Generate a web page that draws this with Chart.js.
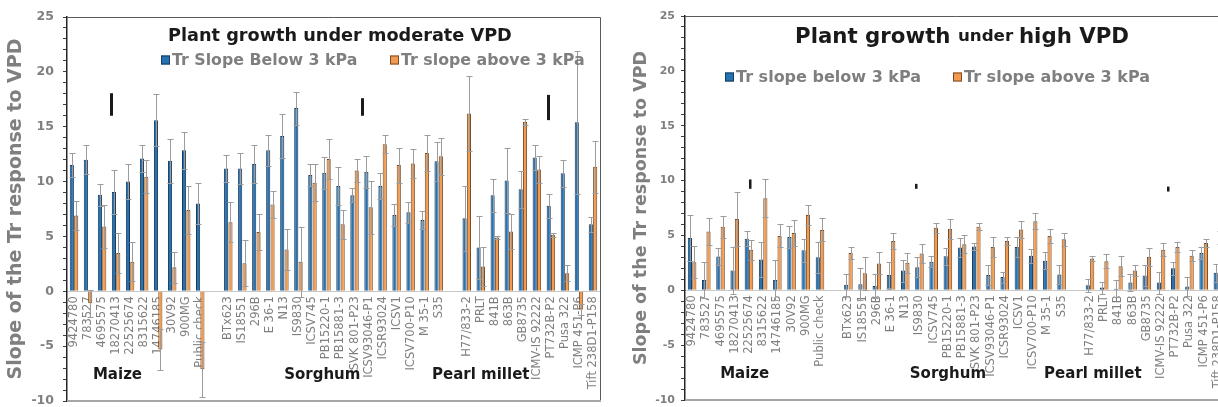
<!DOCTYPE html>
<html><head><meta charset="utf-8">
<script src="https://cdn.jsdelivr.net/npm/chart.js@4.4.1/dist/chart.umd.min.js"></script>
<style>
html,body{margin:0;padding:0;background:#fff;overflow:hidden;width:1218px;height:407px;}
#w1{position:absolute;left:0;top:0;width:607px;height:407px;}
#w2{position:absolute;left:607px;top:0;width:625px;height:407px;}
</style></head><body>
<div id="w1"><canvas id="c1"></canvas></div>
<div id="w2"><canvas id="c2"></canvas></div>
<script>
// ---------- DATA ----------
const categories = ['9424780','783527','4695575','18270413','22525674','8315622','14746185','30V92','900MG','Public check','',
  'BTx623','IS18551','296B','E 36-1','N13','IS9830','ICSV745','PB15220-1','PB15881-3','SVK 801-P23','ICSV93046-P1','ICSR93024','ICSV1','ICSV700-P10','M 35-1','S35','',
  'H77/833-2','PRLT','841B','863B','GB8735','ICMV-IS 92222','PT732B-P2','Pusa 322','ICMP 451-P6','Tift 238D1-P158'];
const groupNames = ['Maize','Sorghum','Pearl millet'];
const yTickLabels = [-10,-5,0,5,10,15,20,25];

// moderate VPD
const belowModerate = [11.5,12.0,8.8,9.05,10.0,12.1,15.6,11.9,12.85,8.0,null,
  11.2,11.2,11.6,12.85,14.15,16.7,10.6,10.8,9.6,8.75,10.9,9.6,6.95,7.2,6.5,11.85,null,
  6.65,4.0,8.75,10.1,9.3,12.2,7.8,10.75,15.4,6.1];
const belowModerateErr = [1.1,1.3,1.0,2.0,1.6,1.2,2.4,2.0,1.7,1.9,null,
  1.2,1.4,1.7,1.4,2.0,1.5,1.0,1.45,1.75,0.65,1.45,1.2,1.0,0.95,0.8,1.8,null,
  2.95,2.9,1.5,3.0,1.7,1.15,1.1,1.2,6.5,0.7];
const aboveModerate = [6.9,-1.1,5.9,3.5,2.7,10.45,-5.3,2.2,7.4,-7.1,null,
  6.3,2.55,5.4,7.9,3.8,2.7,9.9,12.05,6.1,11.0,7.65,13.4,11.5,11.65,12.6,12.3,null,
  16.2,2.25,4.9,5.45,15.45,11.1,5.15,1.65,-1.65,11.35];
const aboveModerateErr = [1.3,1.2,2.0,1.8,1.8,1.5,1.9,1.4,2.2,2.5,null,
  1.8,2.1,1.6,1.25,1.9,3.2,1.7,1.8,1.3,1.05,2.4,0.8,1.6,1.35,1.6,1.7,null,
  3.4,1.75,0.15,1.6,0.25,1.2,0.2,0.75,0.5,2.35];
// high VPD
const belowHigh = [4.77,0.94,3.07,1.8,4.7,2.8,0.94,4.86,3.65,3.0,null,
  0.5,0.55,0.4,1.4,1.8,2.1,2.6,3.1,3.9,4.0,1.4,1.2,3.95,3.15,2.7,1.45,null,
  0.45,0.25,0.15,0.7,1.35,0.7,2.0,0.35,3.4,1.6];
const belowHighErr = [2.1,1.6,0.8,2.15,0.7,1.6,1.8,1.0,1.05,1.4,null,
  1.0,1.45,1.1,1.15,1.0,0.9,0.5,0.75,0.85,0.35,0.9,0.5,0.9,0.65,0.8,0.9,null,
  0.6,0.55,0.8,0.8,1.0,1.0,0.6,0.9,0.55,0.8];
const aboveHigh = [2.55,5.35,5.8,6.5,3.7,8.4,4.95,5.23,6.87,5.5,null,
  3.4,1.55,2.45,4.5,2.5,3.35,5.7,5.6,4.2,5.8,3.95,4.5,5.55,6.3,4.95,4.65,null,
  2.9,2.65,2.2,1.8,3.05,3.7,3.95,3.15,4.3,4.8];
const aboveHighErr = [1.45,1.25,1.0,2.5,0.9,1.75,1.05,1.2,0.9,1.05,null,
  0.55,1.5,1.0,0.7,0.9,0.9,0.45,0.9,0.8,0.3,0.9,0.35,0.8,0.75,0.6,0.6,null,
  0.25,0.65,0.9,0.5,0.8,0.6,0.45,0.5,0.35,0.6];
// small black marks [category index, from, to]
const marksModerate = [[2.64,16.0,18.05],[20.6,16.0,17.6],[33.8,15.6,17.9]];
const marksHigh = [[4.08,9.25,10.1],[15.8,9.25,9.7],[33.5,9.0,9.45]];

// ---------- PLUGINS ----------
const FONT = 'DejaVu Sans';
const errorBars = {
  id:'errorBars',
  afterDatasetsDraw(chart){
    const ctx = chart.ctx, y = chart.scales.y, a = chart.chartArea;
    ctx.save();
    ctx.beginPath(); ctx.rect(a.left, a.top, a.right-a.left, a.bottom-a.top); ctx.clip();
    ctx.strokeStyle = '#9c9c9c'; ctx.lineWidth = 1;
    chart.data.datasets.forEach((ds, di) => {
      const meta = chart.getDatasetMeta(di);
      meta.data.forEach((bar, i) => {
        const v = ds.data[i], e = ds.errors[i];
        if (v == null || e == null) return;
        const x = Math.round(bar.x) + 0.5;
        const yt = Math.round(y.getPixelForValue(v + e)) + 0.5;
        const yb = Math.round(y.getPixelForValue(v - e)) + 0.5;
        ctx.beginPath();
        ctx.moveTo(x, yt); ctx.lineTo(x, yb);
        ctx.moveTo(x - 3, yt); ctx.lineTo(x + 3, yt);
        ctx.moveTo(x - 3, yb); ctx.lineTo(x + 3, yb);
        ctx.stroke();
      });
    });
    ctx.restore();
  }
};
const deco = {
  id:'deco',
  afterDraw(chart, args, o){
    const ctx = chart.ctx, a = chart.chartArea, xs = chart.scales.x, ys = chart.scales.y;
    ctx.save();
    // frame
    ctx.strokeStyle = '#595959'; ctx.lineWidth = 1;
    ctx.beginPath();
    ctx.moveTo(a.left, a.top + 0.5); ctx.lineTo(a.right + 0.5, a.top + 0.5); ctx.lineTo(a.right + 0.5, a.bottom);
    ctx.stroke();
    ctx.strokeStyle = '#a6a6a6'; ctx.lineWidth = 2;
    ctx.beginPath(); ctx.moveTo(a.left, a.bottom); ctx.lineTo(a.right + 1, a.bottom); ctx.stroke();
    // title
    ctx.fillStyle = '#1a1a1a'; ctx.textBaseline = 'middle';
    let parts = o.titleParts, tw = 0;
    parts.forEach(p => { ctx.font = 'bold ' + p[1] + 'px "' + FONT + '"'; tw += ctx.measureText(p[0]).width; });
    let tx = a.left + (a.right - a.left) * o.titleCenter - tw / 2;
    ctx.textAlign = 'left';
    parts.forEach(p => { ctx.font = 'bold ' + p[1] + 'px "' + FONT + '"'; ctx.fillText(p[0], tx, a.top + o.titleY); tx += ctx.measureText(p[0]).width; });
    // legend
    chart.data.datasets.forEach((ds, i) => {
      const lx = a.left + o.legendX[i], ly = a.top + o.legendY;
      ctx.fillStyle = ds.backgroundColor; ctx.fillRect(lx, ly - 4.5, 9, 9);
      ctx.strokeStyle = ds.borderColor; ctx.lineWidth = 1; ctx.strokeRect(lx + 0.5, ly - 4, 8, 8);
      ctx.fillStyle = '#7f7f7f'; ctx.font = 'bold ' + o.legendSize + 'px "' + FONT + '"';
      ctx.fillText(ds.label, lx + 11, ly + 1);
    });
    // group labels
    ctx.fillStyle = '#1a1a1a'; ctx.font = 'bold ' + o.groupSize + 'px "' + FONT + '"'; ctx.textAlign = 'center';
    groupNames.forEach((g, i) => ctx.fillText(g, xs.getPixelForValue(o.groupPos[i]), ys.getPixelForValue(o.groupY)));
    // marks
    ctx.fillStyle = '#1a1a1a';
    o.marks.forEach(m => {
      const x = xs.getPixelForValue(m[0]);
      const y1 = ys.getPixelForValue(m[2]), y2 = ys.getPixelForValue(m[1]);
      ctx.fillRect(Math.round(x - o.markW / 2), y1, o.markW, y2 - y1);
    });
    ctx.restore();
  }
};

function zeroPad(s){ s.paddingTop = 0; s.paddingBottom = 0; s.paddingLeft = 0; s.paddingRight = 0; }

function makeChart(id, below, belowErr, above, aboveErr, labels, cfg){
  return new Chart(document.getElementById(id), {
    type:'bar',
    data:{
      labels: categories,
      datasets:[
        {label:labels[0], data:below, errors:belowErr, backgroundColor:'#2473b5', borderColor:'#1d3a57', borderWidth:1, categoryPercentage:0.62, barPercentage:0.95},
        {label:labels[1], data:above, errors:aboveErr, backgroundColor:'#f29b4f', borderColor:'#7a4b26', borderWidth:1, categoryPercentage:0.62, barPercentage:0.95}
      ]
    },
    options:{
      responsive:true, maintainAspectRatio:false, animation:false,
      layout:{padding:{left:0, right:7, top:cfg.top, bottom:cfg.bottom}},
      plugins:{
        legend:{display:false}, tooltip:{enabled:false},
        deco:cfg.deco
      },
      scales:{
        x:{
          type:'category', position:{y:0},
          afterFit(s){ s.height = 0; zeroPad(s); },
          grid:{display:false, drawTicks:false},
          border:{display:true, color:'#c8c8c8', width:1},
          ticks:{autoSkip:false, maxRotation:90, minRotation:90, padding:5, color:'#7f7f7f', font:{family:FONT, size:cfg.xSize}}
        },
        y:{
          min:-10, max:25,
          afterFit(s){ s.width = cfg.axisW; zeroPad(s); },
          grid:{display:true, drawOnChartArea:false, drawTicks:true, tickLength:4, color:'#404040', lineWidth:1},
          border:{display:true, color:'#262626', width:1.5},
          ticks:{stepSize:1, autoSkip:false, padding:cfg.tickPad, color:'#7f7f7f',
                 font:{family:FONT, size:cfg.ySize, weight:'bold'},
                 callback:v => yTickLabels.includes(v) ? String(v) : ''},
          title:{display:true, text:'Slope of the Tr response to VPD', color:'#7f7f7f',
                 font:{family:FONT, size:cfg.titleSize, weight:'bold'}, padding:{top:cfg.titlePad, bottom:0}}
        }
      }
    },
    plugins:[errorBars, deco]
  });
}

makeChart('c1', belowModerate, belowModerateErr, aboveModerate, aboveModerateErr,
  ['Tr Slope Below 3 kPa','Tr slope above 3 kPa'],
  {top:17, bottom:6, axisW:67, tickPad:9, ySize:12.5, xSize:11.5, titleSize:19, titlePad:5, 
   deco:{titleParts:[['Plant growth under moderate VPD',17.7]], titleCenter:0.512, titleY:19,
         legendX:[94,323], legendY:43, legendSize:15.8,
         groupPos:[3.1,17.7,29.0], groupY:-7.6, groupSize:15,
         marks:marksModerate, markW:3}});

makeChart('c2', belowHigh, belowHighErr, aboveHigh, aboveHighErr,
  ['Tr slope below 3 kPa','Tr slope above 3 kPa'],
  {top:16, bottom:7, axisW:78, tickPad:6, ySize:11, xSize:11.5, titleSize:17.5, titlePad:24,
   deco:{titleParts:[['Plant growth ',21.3],['under ',16.7],['high VPD',21.3]], titleCenter:0.513, titleY:21,
         legendX:[40,268], legendY:61, legendSize:16,
         groupPos:[3.7,18.0,28.2], groupY:-7.65, groupSize:15,
         marks:marksHigh, markW:2.5}});
</script>
</body></html>
